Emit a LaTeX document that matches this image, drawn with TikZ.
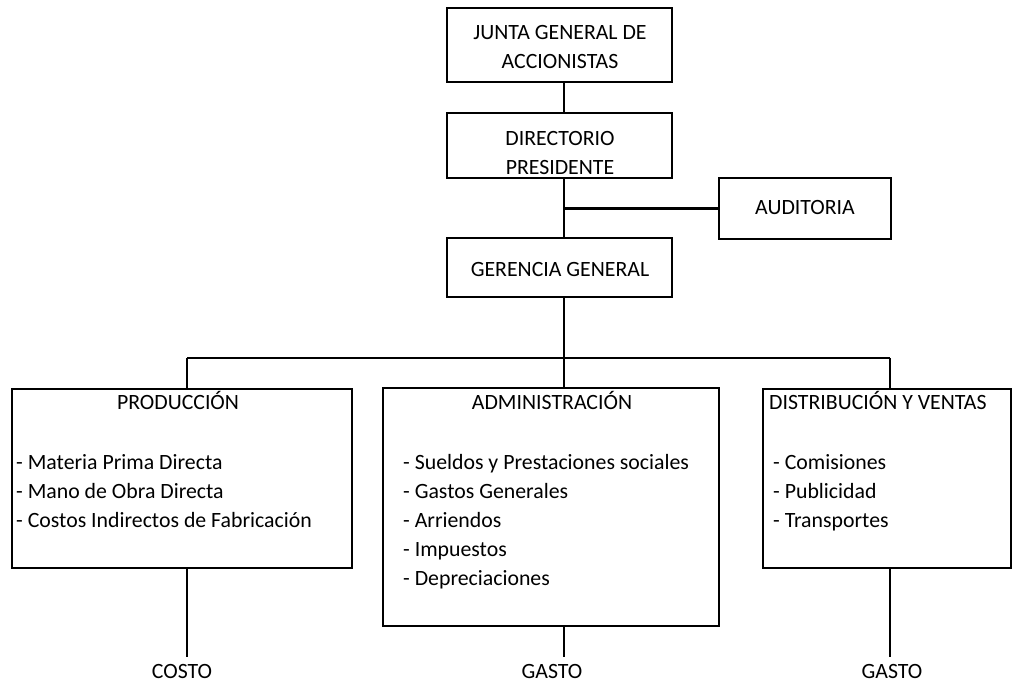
\documentclass[tikz,border=0pt]{standalone}
\usepackage{fontspec}
\setmainfont{Carlito}
\usetikzlibrary{positioning}
\tikzset{
  box/.style={draw, line width=2.8pt, inner sep=0pt},
  link/.style={line width=2.5pt},
  txt/.style={inner sep=0pt, font=\fontsize{21.8}{29}\selectfont},
}
\begin{document}
\begin{tikzpicture}[x=1pt,y=-1pt]
\useasboundingbox (0,0) rectangle (1013,684);

% boxes of the chart
\node[box, minimum width=225pt, minimum height=74pt] (junta) at (559.5,45) {};
\node[box, minimum width=225pt, minimum height=65pt] (dir) at (559.5,145.5) {};
\node[box, minimum width=225pt, minimum height=59pt] (ger) at (559.5,267.5) {};
\node[box, minimum width=172pt, minimum height=61pt] (aud) at (805,208.5) {};
\node[box, minimum width=340pt, minimum height=179pt] (prod) at (182,478.5) {};
\node[box, minimum width=336pt, minimum height=238pt] (adm) at (551,507) {};
\node[box, minimum width=248pt, minimum height=179pt] (dist) at (887,478.5) {};

% texts
\node[txt, align=center] (tjunta) at (560,47.5) {JUNTA GENERAL DE\\ACCIONISTAS};
\node[txt, align=center] (tdir) at (560,153.5) {DIRECTORIO\\PRESIDENTE};
\node[txt, anchor=base] (tger) at (560,277) {GERENCIA GENERAL};
\node[txt, anchor=base] (taud) at (805,215) {AUDITORIA};
\node[txt, anchor=base] (tprod) at (178,410) {PRODUCCIÓN};
\node[txt, anchor=base] (tadm) at (552,410) {ADMINISTRACIÓN};
\node[txt, anchor=base west] (tdist) at (769,410) {DISTRIBUCIÓN Y VENTAS};
\foreach \item [count=\i] in {Materia Prima Directa, Mano de Obra Directa, Costos Indirectos de Fabricación}
    \node[txt, anchor=base west] (p\i) at (16,441+29*\i) {- \item};
\foreach \item [count=\i] in {Sueldos y Prestaciones sociales, Gastos Generales, Arriendos, Impuestos, Depreciaciones}
    \node[txt, anchor=base west] (a\i) at (403,441+29*\i) {- \item};
\foreach \item [count=\i] in {Comisiones, Publicidad, Transportes}
    \node[txt, anchor=base west] (d\i) at (773,441+29*\i) {- \item};
\node[txt, anchor=base] (costo) at (182,678) {COSTO};
\node[txt, anchor=base] (gasto1) at (552,678) {GASTO};
\node[txt, anchor=base] (gasto2) at (892,678) {GASTO};

% connectors
\coordinate (spine) at (564,0);
\coordinate (pbus) at (187,358);
\coordinate (dbus) at (890,358);
\draw[link] (junta.south -| spine) -- (dir.north -| spine);
\draw[link] (dir.south -| spine) -- (ger.north -| spine);
\draw[link] (spine |- aud.west) -- (aud.west);
\draw[link] (ger.south -| spine) -- (spine |- pbus);
\draw[link] (pbus) -- (dbus);
\draw[link] (pbus) -- (pbus |- prod.north);
\draw[link] (spine |- pbus) -- (spine |- adm.north);
\draw[link] (dbus) -- (dbus |- dist.north);
\draw[link, shorten >=7pt] (pbus |- prod.south) -- (pbus |- costo.north);
\draw[link, shorten >=7pt] (spine |- adm.south) -- (spine |- gasto1.north);
\draw[link, shorten >=7pt] (dbus |- dist.south) -- (dbus |- gasto2.north);
\end{tikzpicture}
\end{document}
